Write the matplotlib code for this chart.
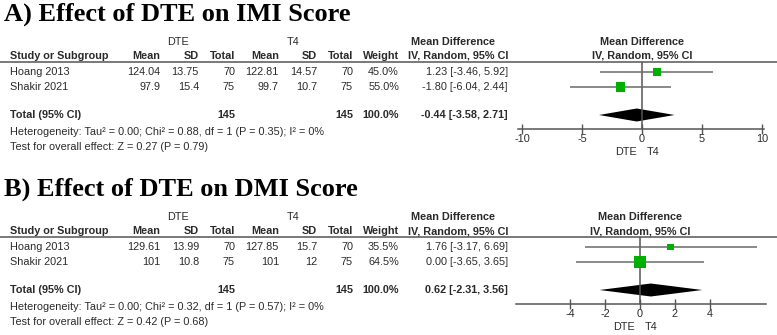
import matplotlib
matplotlib.use('Agg')
import matplotlib.pyplot as plt
from matplotlib.lines import Line2D

# ---- data ----
studies = ["Hoang 2013", "Shakir 2021"]

a_dte_mean = [124.04, 97.9]
a_dte_sd = [13.75, 15.4]
a_dte_n = [70, 75]
a_t4_mean = [122.81, 99.7]
a_t4_sd = [14.57, 10.7]
a_t4_n = [70, 75]
a_weight = [45.0, 55.0]
a_md = [1.23, -1.80]
a_lo = [-3.46, -6.04]
a_hi = [5.92, 2.44]
a_total = [-0.44, -3.58, 2.71]
a_het = "Heterogeneity: Tau\u00b2 = 0.00; Chi\u00b2 = 0.88, df = 1 (P = 0.35); I\u00b2 = 0%"
a_test = "Test for overall effect: Z = 0.27 (P = 0.79)"
a_ticks = [-10, -5, 0, 5, 10]

b_dte_mean = [129.61, 101]
b_dte_sd = [13.99, 10.8]
b_dte_n = [70, 75]
b_t4_mean = [127.85, 101]
b_t4_sd = [15.7, 12]
b_t4_n = [70, 75]
b_weight = [35.5, 64.5]
b_md = [1.76, 0.00]
b_lo = [-3.17, -3.65]
b_hi = [6.69, 3.65]
b_total = [0.62, -2.31, 3.56]
b_het = "Heterogeneity: Tau\u00b2 = 0.00; Chi\u00b2 = 0.32, df = 1 (P = 0.57); I\u00b2 = 0%"
b_test = "Test for overall effect: Z = 0.42 (P = 0.68)"
b_ticks = [-4, -2, 0, 2, 4]

W, H = 777, 335
fig = plt.figure(figsize=(W / 100, H / 100), dpi=100)
SANS = "Liberation Sans"
TXT = "#2a2a2a"
GREEN = "#00b000"
FS = 7.8


def t(x, y, s, **kw):
    kw.setdefault("fontsize", FS)
    kw.setdefault("color", TXT)
    kw.setdefault("family", SANS)
    kw.setdefault("va", "center")
    fig.text(x / W, 1 - y / H, s, **kw)


def panel(top, title, dte_mean, dte_sd, dte_n, t4_mean, t4_sd, t4_n, weight,
          md, lo, hi, total, het, test, ticks, zero_px, px_per_unit, axis_span):
    t(4, top + 14, title, fontsize=19, family="Liberation Serif",
      fontweight="bold", color="black")
    y_grp = top + 42
    y_hdr = top + 56
    y_line = top + 62
    rows = [top + 72, top + 87]
    y_tot = top + 115
    cols = [160, 199, 235, 279, 317, 353, 399]
    t(178, y_grp, "DTE", ha="center")
    t(293, y_grp, "T4", ha="center")
    t(453, y_grp, "Mean Difference", ha="center", fontweight="bold")
    t(zero_px, y_grp, "Mean Difference", ha="center", fontweight="bold")
    t(10, y_hdr, "Study or Subgroup", fontweight="bold")
    for x, h in zip(cols, ["Mean", "SD", "Total", "Mean", "SD", "Total", "Weight"]):
        t(x, y_hdr, h, ha="right", fontweight="bold")
    t(508, y_hdr, "IV, Random, 95% CI", ha="right", fontweight="bold")
    t(zero_px, y_hdr, "IV, Random, 95% CI", ha="center", fontweight="bold")
    fig.add_artist(Line2D([0, 1], [1 - y_line / H] * 2, color="#555555", lw=1.1))

    for i, s in enumerate(studies):
        t(10, rows[i], s)
        vals = [f"{dte_mean[i]:g}", f"{dte_sd[i]:g}", f"{dte_n[i]}",
                f"{t4_mean[i]:g}", f"{t4_sd[i]:g}", f"{t4_n[i]}", f"{weight[i]:.1f}%"]
        for x, v in zip(cols, vals):
            t(x, rows[i], v, ha="right")
        t(508, rows[i], f"{md[i]:.2f} [{lo[i]:.2f}, {hi[i]:.2f}]", ha="right")
    t(10, y_tot, "Total (95% CI)", fontweight="bold")
    t(cols[2], y_tot, f"{sum(dte_n)}", ha="right", fontweight="bold")
    t(cols[5], y_tot, f"{sum(t4_n)}", ha="right", fontweight="bold")
    t(cols[6], y_tot, f"{sum(weight):.1f}%", ha="right", fontweight="bold")
    t(508, y_tot, f"{total[0]:.2f} [{total[1]:.2f}, {total[2]:.2f}]", ha="right",
      fontweight="bold")
    t(10, y_tot + 17, het)
    t(10, y_tot + 32, test)

    # forest plot axes, in pixel rows
    x0, x1 = 505, 777
    y_top, y_bot = y_line, top + 160
    ax = fig.add_axes([x0 / W, 1 - y_bot / H, (x1 - x0) / W, (y_bot - y_top) / H])
    ax.set_xlim((x0 - zero_px) / px_per_unit, (x1 - zero_px) / px_per_unit)
    ax.set_ylim(y_bot, y_top)
    ax.patch.set_alpha(0)
    y_axis = top + 129
    for sp in ["top", "left", "right"]:
        ax.spines[sp].set_visible(False)
    ax.spines["bottom"].set_position(("data", y_axis))
    ax.spines["bottom"].set_bounds(*axis_span)
    ax.spines["bottom"].set_color("#555555")
    ax.spines["bottom"].set_linewidth(1.1)
    ax.set_yticks([])
    ax.set_xticks(ticks)
    ax.set_xticklabels([f"{v:g}" for v in ticks])
    ax.tick_params(axis="x", direction="inout", length=7, width=1, color="#555555",
                   labelsize=FS, labelcolor=TXT, pad=0)
    for lab in ax.get_xticklabels():
        lab.set_family(SANS)
    ax.vlines(0, y_line, y_axis, color="#555555", lw=1.1)
    for i in range(len(studies)):
        ax.hlines(rows[i], lo[i], hi[i], color="#6a6a6a", lw=1.1)
        side = 0.16 * weight[i] + 1
        ax.scatter([md[i]], [rows[i]], marker="s", s=(side * 0.72) ** 2,
                   color=GREEN, edgecolors="none", zorder=3)
    h = 6.5
    ax.fill([total[1], total[0], total[2], total[0]],
            [y_tot, y_tot - h, y_tot, y_tot + h], color="black", lw=0)
    ax.annotate("DTE", (0, y_axis + 23), xytext=(-5, 0), textcoords="offset pixels",
                ha="right", va="center", fontsize=FS, color=TXT, family=SANS)
    ax.annotate("T4", (0, y_axis + 23), xytext=(5, 0), textcoords="offset pixels",
                ha="left", va="center", fontsize=FS, color=TXT, family=SANS)


panel(0, "A) Effect of DTE on IMI Score", a_dte_mean, a_dte_sd, a_dte_n,
      a_t4_mean, a_t4_sd, a_t4_n, a_weight, a_md, a_lo, a_hi, a_total,
      a_het, a_test, a_ticks, 642, 12.0, (-10.3, 10.2))
panel(175, "B) Effect of DTE on DMI Score", b_dte_mean, b_dte_sd, b_dte_n,
      b_t4_mean, b_t4_sd, b_t4_n, b_weight, b_md, b_lo, b_hi, b_total,
      b_het, b_test, b_ticks, 640, 17.5, (-7.1, 7.2))

fig.savefig("out.png", dpi=100)
